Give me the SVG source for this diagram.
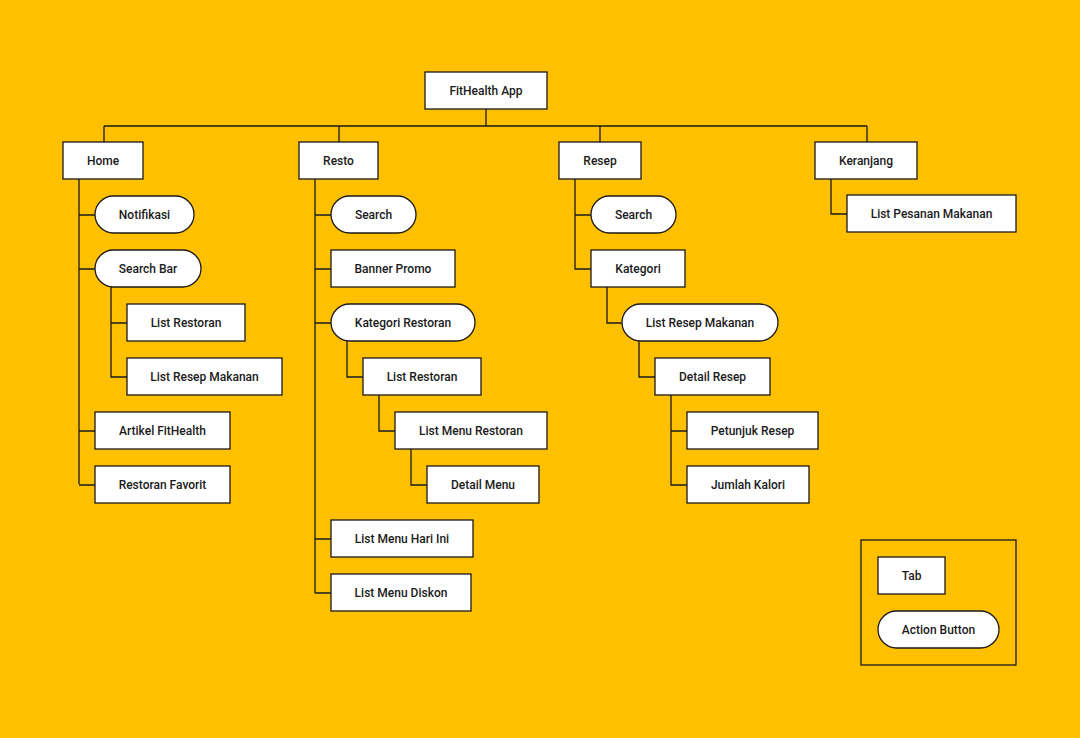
<svg xmlns="http://www.w3.org/2000/svg" width="1080" height="738" viewBox="0 0 1080 738">
<style>
.n rect{fill:#fff;stroke:#1a1a1a;stroke-width:1.3}
.n text{font-family:Roboto,"Liberation Sans",sans-serif;font-size:12px;font-weight:500;fill:#1a1a1a;text-anchor:middle;dominant-baseline:central}
#edges path{fill:none;stroke:#1a1a1a;stroke-width:1.3}
</style>
<rect width="1080" height="738" fill="#FFC000"/>
<g id="edges">
<path d="M486 109V126M104 126H867M104 126V142M339 126V142M600 126V142M867 126V142"/>
<path d="M79 179V484M79 215H95M79 269H95M79 431H95M79 485H95M111 287V377H127M111 323H127"/>
<path d="M315 179V593M315 215H331M315 269H331M315 323H331M315 539H331M315 593H331M347 341V377H363M379 395V431H395M411 449V485H427"/>
<path d="M575 179V269H591M575 215H591M607 287V323H622M639 341V377H655M671 395V485H687M671 431H687"/>
<path d="M831 179V214H847"/>
</g>
<g id="root" class="n"><rect x="425" y="72" width="122" height="37"/><text x="486" y="91">FitHealth App</text></g>
<g id="home" class="n"><rect x="63" y="142" width="80" height="37"/><text x="103" y="161">Home</text></g>
<g id="resto" class="n"><rect x="299" y="142" width="79" height="37"/><text x="338.5" y="161">Resto</text></g>
<g id="resep" class="n"><rect x="559" y="142" width="82" height="37"/><text x="600" y="161">Resep</text></g>
<g id="keranjang" class="n"><rect x="815" y="142" width="102" height="37"/><text x="866" y="161">Keranjang</text></g>
<g id="notifikasi" class="n"><rect x="95" y="196" width="99" height="37" rx="18.5"/><text x="144.5" y="215">Notifikasi</text></g>
<g id="searchbar" class="n"><rect x="95" y="250" width="106" height="37" rx="18.5"/><text x="148" y="269">Search Bar</text></g>
<g id="home-listrestoran" class="n"><rect x="127" y="304" width="118" height="37"/><text x="186" y="323">List Restoran</text></g>
<g id="home-listresep" class="n"><rect x="127" y="358" width="155" height="37"/><text x="204.5" y="377">List Resep Makanan</text></g>
<g id="artikel" class="n"><rect x="95" y="412" width="135" height="37"/><text x="162.5" y="431">Artikel FitHealth</text></g>
<g id="favorit" class="n"><rect x="95" y="466" width="135" height="37"/><text x="162.5" y="485">Restoran Favorit</text></g>
<g id="resto-search" class="n"><rect x="331" y="196" width="85" height="37" rx="18.5"/><text x="373.5" y="215">Search</text></g>
<g id="banner" class="n"><rect x="331" y="250" width="124" height="37"/><text x="393" y="269">Banner Promo</text></g>
<g id="katresto" class="n"><rect x="331" y="304" width="144" height="37" rx="18.5"/><text x="403" y="323">Kategori Restoran</text></g>
<g id="resto-listrestoran" class="n"><rect x="363" y="358" width="118" height="37"/><text x="422" y="377">List Restoran</text></g>
<g id="listmenu" class="n"><rect x="395" y="412" width="152" height="37"/><text x="471" y="431">List Menu Restoran</text></g>
<g id="detailmenu" class="n"><rect x="427" y="466" width="112" height="37"/><text x="483" y="485">Detail Menu</text></g>
<g id="hariini" class="n"><rect x="331" y="520" width="142" height="37"/><text x="402" y="539">List Menu Hari Ini</text></g>
<g id="diskon" class="n"><rect x="331" y="574" width="140" height="37"/><text x="401" y="593">List Menu Diskon</text></g>
<g id="resep-search" class="n"><rect x="591" y="196" width="85" height="37" rx="18.5"/><text x="633.5" y="215">Search</text></g>
<g id="kategori" class="n"><rect x="591" y="250" width="94" height="37"/><text x="638" y="269">Kategori</text></g>
<g id="resep-list" class="n"><rect x="622" y="304" width="156" height="37" rx="18.5"/><text x="700" y="323">List Resep Makanan</text></g>
<g id="detailresep" class="n"><rect x="655" y="358" width="115" height="37"/><text x="712.5" y="377">Detail Resep</text></g>
<g id="petunjuk" class="n"><rect x="687" y="412" width="131" height="37"/><text x="752.5" y="431">Petunjuk Resep</text></g>
<g id="kalori" class="n"><rect x="687" y="466" width="122" height="37"/><text x="748" y="485">Jumlah Kalori</text></g>
<g id="pesanan" class="n"><rect x="847" y="195" width="169" height="37"/><text x="931.5" y="214">List Pesanan Makanan</text></g>
<g id="legend"><rect x="861" y="540" width="155" height="125" fill="none" stroke="#1a1a1a" stroke-width="1.3"/></g>
<g id="legend-tab" class="n"><rect x="878" y="557" width="67" height="37"/><text x="911.5" y="576">Tab</text></g>
<g id="legend-action" class="n"><rect x="878" y="611" width="121" height="37" rx="18.5"/><text x="938.5" y="630">Action Button</text></g>
</svg>
